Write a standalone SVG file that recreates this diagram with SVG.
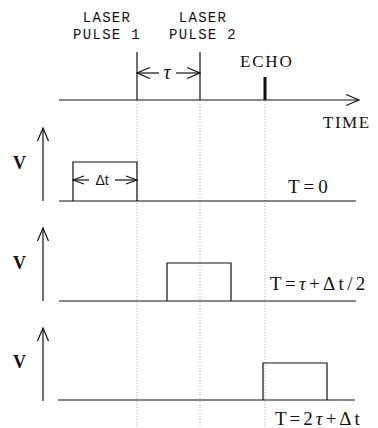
<svg xmlns="http://www.w3.org/2000/svg" width="378" height="428" viewBox="0 0 378 428">
<style>
.ln{stroke:#111;stroke-width:1.2;fill:none}
.dot{stroke:#aaa;stroke-width:1;stroke-dasharray:1 2;fill:none}
.mono{font-family:"Liberation Mono","DejaVu Sans Mono",monospace;font-size:14px;letter-spacing:1.3px;fill:#111}
.ser{font-family:"Liberation Serif","DejaVu Serif",serif;fill:#111}
.v{font-family:"Liberation Serif",serif;font-size:18px;font-weight:bold;fill:#111}
.sans{font-family:"Liberation Sans","DejaVu Sans",sans-serif;font-size:14px;fill:#111}
</style>
<defs>
<marker id="ah" markerUnits="userSpaceOnUse" markerWidth="16" markerHeight="14" refX="14" refY="7" orient="auto-start-reverse">
<path d="M1,1.5 L14,7 L1,12.5" fill="none" stroke="#111" stroke-width="1.2"/>
</marker>
<marker id="ahs" markerUnits="userSpaceOnUse" markerWidth="14" markerHeight="12" refX="12" refY="6" orient="auto-start-reverse">
<path d="M1,2 L12,6 L1,10" fill="none" stroke="#111" stroke-width="1.1"/>
</marker>
</defs>
<rect width="378" height="428" fill="#fff"/>

<g id="connectors">
<line class="dot" x1="137" y1="101" x2="137" y2="428"/>
<line class="dot" x1="200" y1="101" x2="200" y2="428"/>
<line class="dot" x1="265" y1="101" x2="265" y2="428"/>
<line class="ln" x1="137" y1="73" x2="159" y2="73" marker-start="url(#ah)"/>
<line class="ln" x1="176" y1="73" x2="200" y2="73" marker-end="url(#ah)"/>
<line class="ln" x1="73" y1="180" x2="89" y2="180" marker-start="url(#ahs)"/>
<line class="ln" x1="115" y1="180" x2="137" y2="180" marker-end="url(#ahs)"/>
</g>

<g id="time-axis">
<line class="ln" x1="59" y1="100" x2="359" y2="100" marker-end="url(#ah)"/>
<text class="ser" x="323" y="128" font-size="17" letter-spacing="1.5">TIME</text>
</g>

<g id="pulse1">
<line class="ln" x1="137" y1="52" x2="137" y2="100"/>
<text class="mono" x="107" y="22" text-anchor="middle">LASER</text>
<text class="mono" x="107" y="39" text-anchor="middle">PULSE 1</text>
</g>

<g id="pulse2">
<line class="ln" x1="200" y1="52" x2="200" y2="100"/>
<text class="mono" x="203" y="22" text-anchor="middle">LASER</text>
<text class="mono" x="203" y="39" text-anchor="middle">PULSE 2</text>
</g>

<g id="tau-label">
<text class="ser" x="167" y="79" font-size="20" font-style="italic" text-anchor="middle">τ</text>
</g>

<g id="echo">
<line x1="265" y1="77" x2="265" y2="100" stroke="#111" stroke-width="3"/>
<text class="ser" x="240" y="67" font-size="17" letter-spacing="1.8">ECHO</text>
</g>

<g id="panel1">
<line class="ln" x1="43" y1="201" x2="43" y2="128" marker-end="url(#ah)"/>
<text class="v" x="13" y="169">V</text>
<line class="ln" x1="59" y1="201" x2="356" y2="201"/>
<polyline class="ln" points="73,201 73,162 137,162 137,201"/>
<text class="sans" x="102" y="185" text-anchor="middle">Δt</text>
<text class="ser" x="288" y="193" font-size="19" letter-spacing="4">T=0</text>
</g>

<g id="panel2">
<line class="ln" x1="43" y1="301" x2="43" y2="228" marker-end="url(#ah)"/>
<text class="v" x="13" y="269">V</text>
<line class="ln" x1="59" y1="301" x2="356" y2="301"/>
<polyline class="ln" points="167,301 167,263 231,263 231,301"/>
<text class="ser" x="270" y="290" font-size="19" letter-spacing="3.3">T=<tspan font-style="italic">τ</tspan>+Δt/2</text>
</g>

<g id="panel3">
<line class="ln" x1="43" y1="401" x2="43" y2="328" marker-end="url(#ah)"/>
<text class="v" x="13" y="368">V</text>
<line class="ln" x1="58" y1="400" x2="355" y2="400"/>
<polyline class="ln" points="263,400 263,363 327,363 327,400"/>
<text class="ser" x="275" y="425" font-size="19" letter-spacing="3">T=2<tspan font-style="italic">τ</tspan>+Δt</text>
</g>
</svg>
